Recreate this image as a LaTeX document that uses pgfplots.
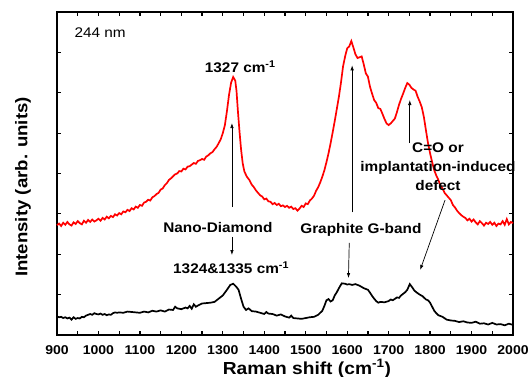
\documentclass[border=0pt]{standalone}
\usepackage{pgfplots}
\pgfplotsset{compat=1.18}
\usepackage{fontspec}
\setmainfont{Liberation Sans}[FakeStretch=1.1]
\usetikzlibrary{arrows.meta}
\begin{document}
\begin{tikzpicture}
\path[use as bounding box] (-57bp,-42bp) rectangle (474bp,335bp);
\begin{axis}[
  at={(0,0)}, anchor=south west,
  scale only axis, width=456bp, height=323bp,
  xmin=900, xmax=2000, ymin=0, ymax=8,
  xtick={900,1000,...,2000},
  minor xtick={950,1050,...,1950},
  ytick={1,2,...,7}, yticklabels={},
  tick align=inside,
  major tick length=4bp, minor tick length=4bp,
  every tick/.style={black, line width=1.2bp},
  axis line style={line width=1.6bp},
  /pgf/number format/assume math mode=true,
  /pgf/number format/1000 sep={},
  xticklabel style={font=\bfseries\fontsize{12.8}{15}\selectfont, anchor=base, yshift=-19bp},
  xlabel={\bfseries Raman shift (cm\textsuperscript{-1})},
  xlabel style={font=\fontsize{17.5}{20}\selectfont, at={(axis description cs:0.548,0)}, anchor=base, yshift=-39bp},
  ylabel={\bfseries Intensity (arb. units)},
  ylabel style={font=\fontsize{17}{20}\selectfont, at={(axis description cs:-0.0746,0.458)}, anchor=center},
  clip=false,
]
\addplot[red, line width=1.7bp] table {
900 2.72
905 2.76
910 2.70
915 2.78
920 2.73
925 2.80
930 2.74
935 2.71
940 2.79
945 2.75
950 2.82
955 2.77
960 2.74
965 2.83
970 2.78
975 2.85
980 2.80
985 2.86
990 2.81
995 2.84
1000 2.88
1005 2.83
1010 2.90
1015 2.86
1020 2.93
1025 2.89
1030 2.95
1035 2.92
1040 2.99
1045 2.96
1050 3.02
1055 2.99
1060 3.06
1065 3.04
1070 3.10
1075 3.07
1080 3.14
1085 3.11
1090 3.18
1095 3.15
1100 3.22
1105 3.20
1110 3.28
1115 3.30
1120 3.35
1125 3.33
1130 3.41
1135 3.44
1140 3.49
1145 3.52
1150 3.60
1155 3.63
1160 3.71
1165 3.76
1170 3.84
1175 3.88
1180 3.93
1185 3.98
1190 4.00
1195 4.06
1200 4.05
1205 4.12
1210 4.10
1215 4.17
1220 4.18
1225 4.22
1230 4.26
1235 4.24
1240 4.31
1245 4.33
1250 4.36
1255 4.34
1260 4.42
1265 4.45
1270 4.50
1275 4.53
1280 4.60
1285 4.66
1290 4.75
1295 4.85
1300 5.00
1305 5.20
1310 5.55
1315 5.95
1320 6.25
1325 6.39
1330 6.30
1333 6.05
1336 5.60
1340 5.07
1344 4.60
1348 4.25
1352 4.05
1358 3.92
1364 3.84
1370 3.72
1375 3.66
1380 3.58
1385 3.52
1390 3.46
1395 3.43
1400 3.36
1405 3.38
1410 3.31
1415 3.30
1420 3.24
1425 3.27
1430 3.22
1435 3.25
1440 3.19
1445 3.21
1450 3.17
1455 3.20
1460 3.15
1465 3.18
1470 3.12
1475 3.14
1480 3.08
1485 3.13
1490 3.20
1495 3.17
1500 3.26
1505 3.24
1510 3.33
1515 3.38
1520 3.45
1525 3.57
1530 3.66
1535 3.78
1540 3.92
1545 4.08
1550 4.28
1555 4.50
1560 4.75
1565 5.02
1570 5.30
1575 5.60
1580 5.90
1585 6.25
1590 6.65
1595 6.90
1600 7.10
1605 7.15
1610 7.28
1615 7.12
1620 6.95
1625 6.86
1630 6.88
1635 6.90
1640 6.70
1645 6.48
1650 6.40
1655 6.15
1660 5.98
1665 5.82
1670 5.75
1675 5.62
1680 5.60
1685 5.48
1690 5.35
1695 5.24
1700 5.20
1705 5.24
1710 5.30
1715 5.36
1720 5.52
1725 5.70
1730 5.85
1735 5.98
1740 6.12
1745 6.24
1750 6.20
1755 6.12
1760 6.08
1765 6.05
1770 5.90
1775 5.78
1780 5.64
1785 5.40
1790 5.07
1795 4.75
1800 4.50
1805 4.28
1810 4.08
1815 3.95
1820 3.84
1825 3.70
1830 3.63
1835 3.52
1840 3.46
1845 3.40
1850 3.34
1855 3.22
1860 3.16
1865 3.08
1870 3.02
1875 2.97
1880 2.93
1885 2.90
1890 2.84
1895 2.88
1900 2.81
1905 2.86
1910 2.79
1915 2.74
1920 2.82
1925 2.77
1930 2.71
1935 2.78
1940 2.75
1945 2.80
1950 2.73
1955 2.78
1960 2.70
1965 2.76
1970 2.74
1975 2.82
1980 2.73
1985 2.87
1990 2.74
1995 2.80
2000 2.77
};
\addplot[black, line width=1.7bp] table {
900 0.46
905 0.44
910 0.45
915 0.42
920 0.44
925 0.41
930 0.43
935 0.38
940 0.44
945 0.40
950 0.42
955 0.41
960 0.45
965 0.44
970 0.48
975 0.50
980 0.52
985 0.50
990 0.54
995 0.52
1000 0.51
1005 0.53
1010 0.50
1015 0.52
1020 0.49
1025 0.51
1030 0.50
1035 0.54
1040 0.56
1045 0.55
1050 0.56
1060 0.55
1070 0.58
1080 0.57
1090 0.56
1100 0.55
1110 0.58
1120 0.56
1130 0.60
1140 0.58
1150 0.61
1160 0.58
1170 0.63
1180 0.62
1185 0.70
1190 0.66
1200 0.64
1210 0.68
1215 0.66
1220 0.72
1225 0.65
1230 0.76
1235 0.70
1240 0.73
1250 0.78
1260 0.79
1270 0.80
1280 0.82
1290 0.90
1300 0.98
1310 1.12
1318 1.24
1325 1.27
1332 1.20
1338 1.12
1344 0.90
1350 0.70
1356 0.62
1362 0.66
1370 0.59
1380 0.58
1390 0.55
1400 0.52
1405 0.57
1410 0.53
1420 0.52
1430 0.48
1440 0.51
1450 0.46
1460 0.43
1465 0.48
1470 0.42
1480 0.41
1490 0.40
1500 0.42
1510 0.44
1520 0.45
1530 0.50
1540 0.60
1545 0.72
1550 0.86
1555 0.89
1560 0.83
1565 0.86
1570 0.98
1575 1.06
1580 1.16
1587 1.28
1595 1.27
1600 1.25
1605 1.26
1612 1.24
1620 1.26
1630 1.22
1640 1.16
1650 1.12
1655 1.05
1660 0.97
1665 0.90
1670 0.84
1675 0.80
1680 0.82
1690 0.81
1700 0.84
1705 0.88
1710 0.86
1720 0.93
1725 0.92
1730 0.98
1740 1.06
1745 1.12
1751 1.26
1757 1.18
1762 1.10
1768 1.05
1775 1.00
1782 0.96
1790 0.88
1795 0.86
1800 0.80
1805 0.70
1810 0.60
1815 0.54
1820 0.49
1830 0.45
1840 0.38
1850 0.36
1860 0.35
1870 0.32
1880 0.34
1890 0.31
1900 0.30
1910 0.33
1920 0.28
1930 0.29
1940 0.26
1950 0.30
1960 0.26
1970 0.27
1980 0.24
1990 0.28
2000 0.25
};
% annotations
\node[anchor=west, font=\fontsize{14}{16}\selectfont] at (axis cs:934,7.48) {244 nm};
\node[font=\bfseries\fontsize{14}{16}\selectfont] at (axis cs:1342,6.65) {1327 cm\textsuperscript{-1}};
\node[font=\bfseries\fontsize{14}{16}\selectfont] at (axis cs:1288,2.67) {Nano-Diamond};
\node[font=\bfseries\fontsize{14}{16}\selectfont] at (axis cs:1320,1.66) {1324\&1335 cm\textsuperscript{-1}};
\node[font=\bfseries\fontsize{14}{16}\selectfont] at (axis cs:1633,2.60) {Graphite G-band};
\node[font=\bfseries\fontsize{14}{19}\selectfont, align=center] at (axis cs:1819,4.16) {C=O or\\implantation-induced\\defect};
\draw[-{Latex[length=5bp,width=3.5bp]}, line width=0.7bp] (axis cs:1322,3.17) -- (axis cs:1322,5.25);
\draw[-{Latex[length=5bp,width=3.5bp]}, line width=0.7bp] (axis cs:1322,2.43) -- (axis cs:1322,1.98);
\draw[-{Latex[length=5bp,width=3.5bp]}, line width=0.7bp] (axis cs:1612,3.04) -- (axis cs:1612,6.68);
\draw[-{Latex[length=5bp,width=3.5bp]}, line width=0.7bp] (axis cs:1605,2.28) -- (axis cs:1603,1.41);
\draw[-{Latex[length=5bp,width=3.5bp]}, line width=0.7bp] (axis cs:1751,4.75) -- (axis cs:1751,5.82);
\draw[-{Latex[length=5bp,width=3.5bp]}, line width=0.7bp] (axis cs:1836,3.34) -- (axis cs:1776,1.61);
\end{axis}
\end{tikzpicture}
\end{document}
